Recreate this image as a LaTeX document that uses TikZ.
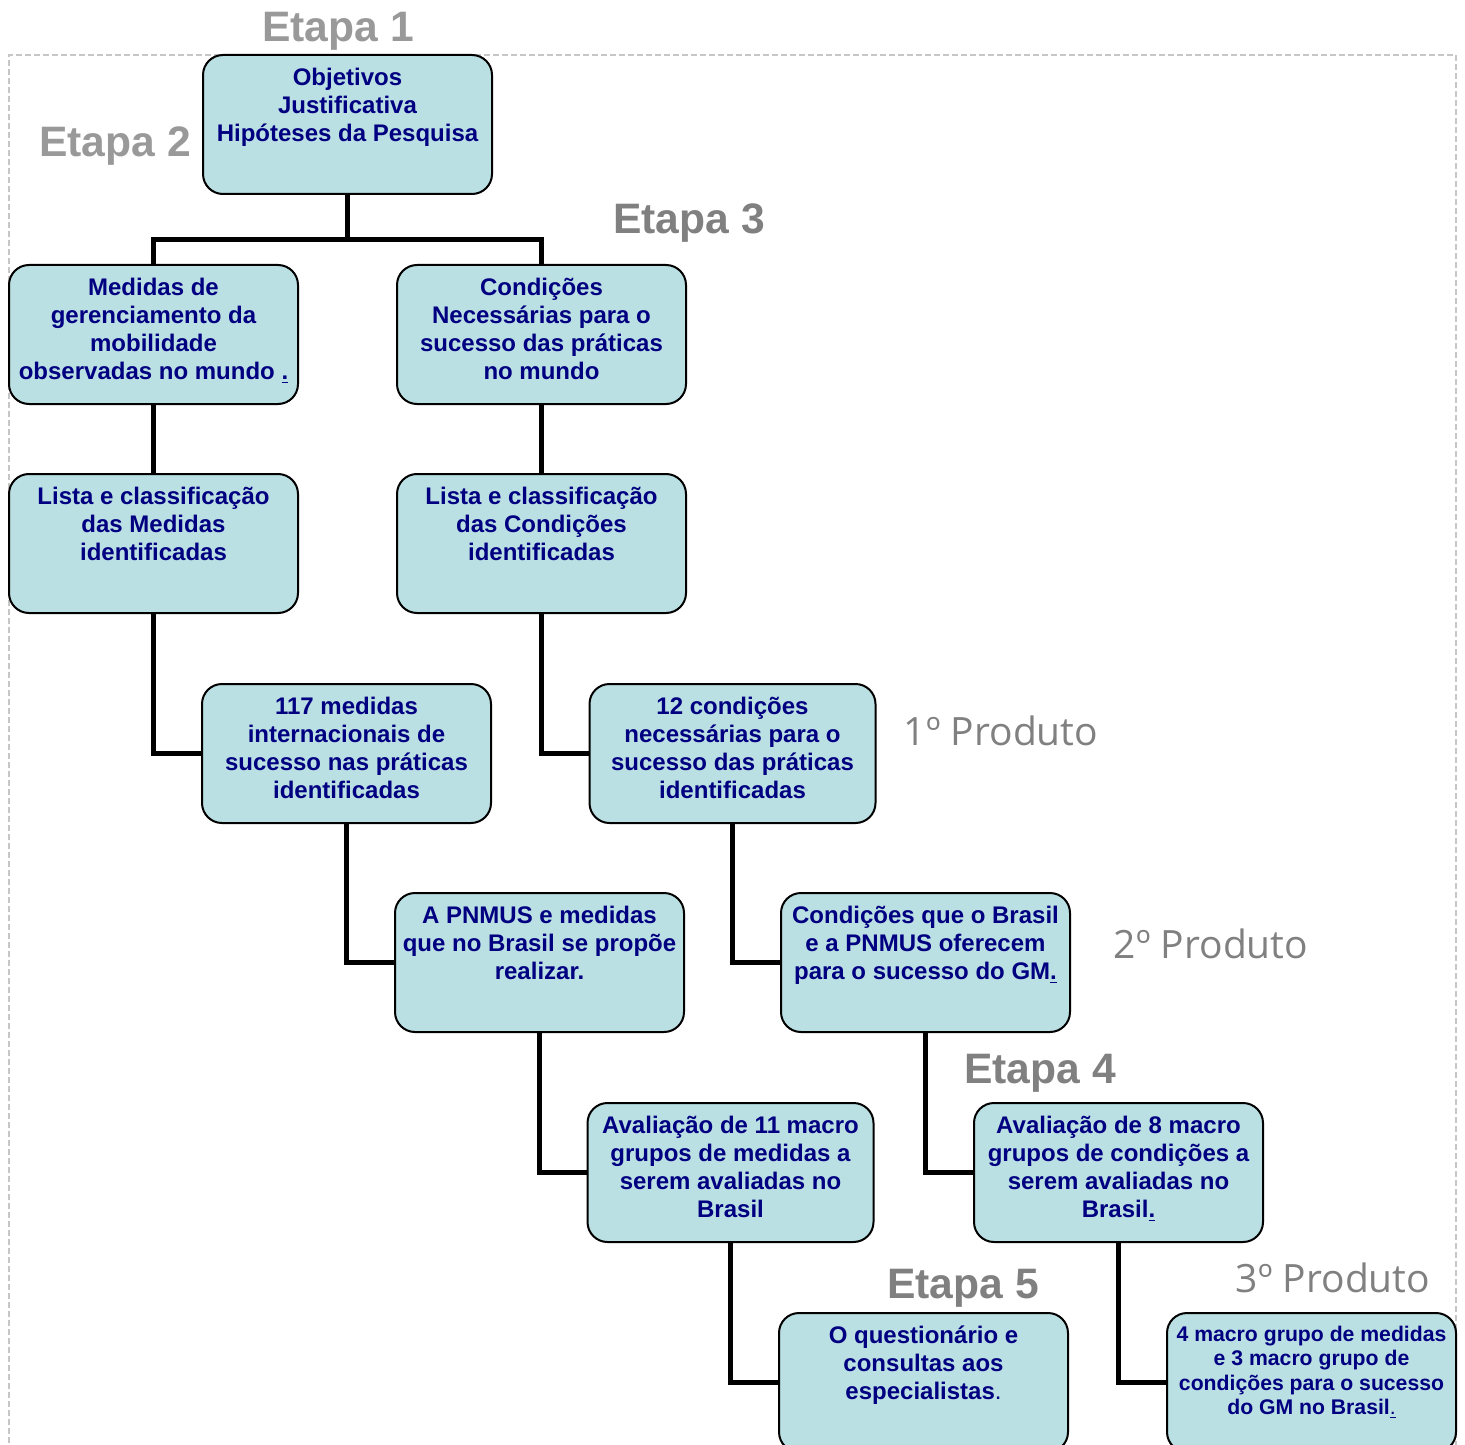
\documentclass[tikz,border=0pt]{standalone}
\usepackage{fontspec}
\setmainfont{Liberation Sans}
\newfontfamily\produtofont{Open Sans}
\usetikzlibrary{positioning}
\definecolor{boxfill}{RGB}{186,224,227}
\definecolor{boxtext}{RGB}{0,0,128}
\definecolor{etapalight}{RGB}{153,153,153}
\definecolor{etapadark}{RGB}{128,128,128}
\tikzset{
  stagebox/.style={draw=black, line width=1pt, fill=boxfill, rounded corners=10pt, minimum width=144.5pt, minimum height=69.5pt, inner sep=0pt, text=boxtext, font=\fontsize{12}{14}\selectfont\bfseries,
    execute at begin node={\begin{minipage}[c][58.5pt][t]{143pt}\centering\strut}, execute at end node={\end{minipage}}},
  smallbox/.style={stagebox, font=\fontsize{10.6}{12.25}\selectfont\bfseries},
  stagelink/.style={draw=black, line width=2.5pt},
  etapalabel/.style={font=\fontsize{21.3}{24}\selectfont\bfseries, text=etapalight, inner sep=0pt},
  produtolabel/.style={font=\produtofont\fontsize{19.5}{22}\selectfont, text=etapadark, inner sep=0pt},
}

\begin{document}
\begin{tikzpicture}[x=0.5pt, y=-0.5pt]
    \useasboundingbox (0,0) rectangle (1465,1444);
    % frame
    \draw[gray!45, line width=0.6pt, dash pattern=on 3pt off 1.5pt] (9,1470) -- (9,55) -- (1456,55) -- (1456,1470);
    % stage boxes
    \node[stagebox] (obj) at (347.5,124.5) {Objetivos\\Justificativa\\Hipóteses da Pesquisa};
    \node[stagebox] (med) at (153.5,334.5) {Medidas de\\gerenciamento da\\mobilidade\\observadas no mundo \underline{.}};
    \node[stagebox] (cond) at (541.5,334.5) {Condições\\Necessárias para o\\sucesso das práticas\\no mundo};
    \node[stagebox] (listmed) at (153.5,543.5) {Lista e classificação\\das Medidas\\identificadas};
    \node[stagebox] (listcond) at (541.5,543.5) {Lista e classificação\\das Condições\\identificadas};
    \node[stagebox] (med117) at (346.5,753.5) {117 medidas\\internacionais de\\sucesso nas práticas\\identificadas};
    \node[stagebox, minimum width=142.5pt] (cond12) at (732.5,753.5) {12 condições\\necessárias para o\\sucesso das práticas\\identificadas};
    \node[stagebox] (pnmus) at (539.5,962.5) {A PNMUS e medidas\\que no Brasil se propõe\\realizar.};
    \node[stagebox] (condbr) at (925.5,962.5) {Condições que o Brasil\\e a PNMUS oferecem\\para o sucesso do GM\underline{.}};
    \node[stagebox, minimum width=142.5pt] (aval11) at (730.5,1172.5) {Avaliação de 11 macro\\grupos de medidas a\\serem avaliadas no\\Brasil};
    \node[stagebox] (aval8) at (1118.5,1172.5) {Avaliação de 8 macro\\grupos de condições a\\serem avaliadas no\\Brasil\underline{.}};
    \node[stagebox] (quest) at (923.5,1382.5) {O questionário e\\consultas aos\\especialistas{\mdseries .}};
    \node[smallbox] (macro) at (1311.5,1382.5) {4 macro grupo de medidas\\e 3 macro grupo de\\condições para o sucesso\\do GM no Brasil\underline{\mdseries .}};
    % labels
    \node[etapalabel, text=etapalight] (e1) at (338,31) {Etapa 1};
    \node[etapalabel, text=etapalight] (e2) at (115,146) {Etapa 2};
    \node[etapalabel, text=etapadark] (e3) at (689,223) {Etapa 3};
    \node[etapalabel, text=etapadark] (e4) at (1040,1073) {Etapa 4};
    \node[etapalabel, text=etapadark] (e5) at (963,1288) {Etapa 5};
    \node[produtolabel] (p1) at (1001,731) {1º Produto};
    \node[produtolabel] (p2) at (1211,944) {2º Produto};
    \node[produtolabel] (p3) at (1333,1278) {3º Produto};
    % connectors
    \coordinate (split) at (347.5,240);
    \draw[stagelink] (obj.south) -- (split);
    \draw[stagelink] (med.north) |- (split) -| (cond.north);
    \draw[stagelink] (med) -- (listmed);
    \draw[stagelink] (cond) -- (listcond);
    \draw[stagelink] (listmed.south) |- (med117.west);
    \draw[stagelink] (listcond.south) |- (cond12.west);
    \draw[stagelink] (med117.south) |- (pnmus.west);
    \draw[stagelink] (cond12.south) |- (condbr.west);
    \draw[stagelink] (pnmus.south) |- (aval11.west);
    \draw[stagelink] (condbr.south) |- (aval8.west);
    \draw[stagelink] (aval11.south) |- (quest.west);
    \draw[stagelink] (aval8.south) |- (macro.west);
\end{tikzpicture}
\end{document}
